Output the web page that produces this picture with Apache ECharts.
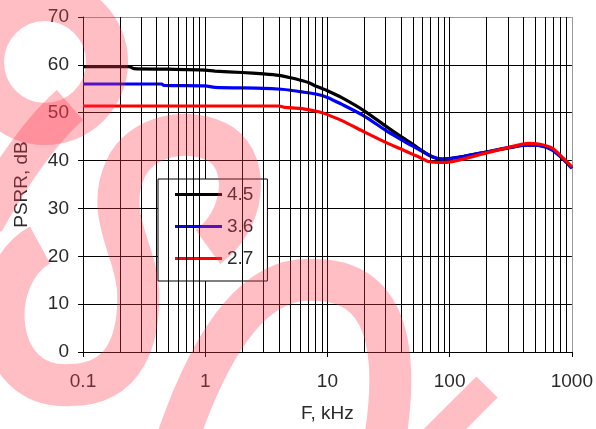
<!DOCTYPE html>
<html><head><meta charset="utf-8">
<script src="https://cdn.jsdelivr.net/npm/echarts@6/dist/echarts.min.js"></script>
<style>html,body{margin:0;padding:0;background:#fff}#c{width:596px;height:429px}</style>
</head><body><div id="c"></div>
<script>
const xTicks = [0.1, 1, 10, 100, 1000];
const yTicks = [0, 10, 20, 30, 40, 50, 60, 70];
const seriesNames = ['4.5', '3.6', '2.7'];
const seriesColors = ['#000000', '#0000ff', '#ff0000'];
const freq45 = [0.1,0.24,0.26,0.5,1.0,1.2,2.0,3.0,4.0,5.0,6.0,7.0,8.0,10,13,20,30,40,50,60,72,85,100,130,200,300,400,500,600,700,850,1000];
const psrr45 = [59.6,59.6,59.2,59.1,58.9,58.7,58.4,58.1,57.8,57.3,56.8,56.3,55.6,54.6,53.2,50.4,47.2,45.0,43.4,42.0,40.8,40.3,40.4,40.9,41.8,42.6,43.2,43.3,42.9,42.3,40.3,38.4];
const freq36 = [0.1,0.44,0.46,1.0,1.2,3.0,4.2,5.0,6.0,8.0,10,13,20,30,40,50,60,72,88,100,128,200,300,440,550,690,850,1000];
const psrr36 = [56.0,56.0,55.7,55.6,55.3,55.1,54.9,54.7,54.4,53.9,53.2,51.8,49.3,46.3,44.4,43.0,41.9,40.8,40.3,40.4,40.8,41.8,42.7,43.2,43.1,42.2,40.3,38.4];
const freq27 = [0.1,4.0,4.5,6.0,8.5,10,13,20,30,40,50,60,67,88,100,128,200,300,440,550,690,850,1000];
const psrr27 = [51.4,51.4,51.1,50.9,50.2,49.6,48.4,46.0,43.8,42.4,41.3,40.4,39.8,39.6,39.7,40.3,41.6,42.7,43.6,43.4,42.6,40.5,38.7];
const minorMult = [2,3,4,5,6,7,8,9];

const pairs = (xs, ys) => xs.map((x, i) => [x, ys[i]]);
const minorLines = [];
xTicks.slice(0, -1).forEach(d => minorMult.forEach(m => minorLines.push({ xAxis: +(d * m).toPrecision(3) })));

const font = 'Liberation Sans, Arial, sans-serif';
const txt = '#2a2a2a';
const wm = 'rgba(255,55,75,0.33)';
const wmPaths = [
  ['M -17 62 a 62 62 0 1 0 124 0 a 62 62 0 1 0 -124 0', 42],
  ['M 70 105 Q 30 140 -16 222', 40],
  ['M 40 245 C -15 275 -10 390 70 385 C 125 385 140 340 138 290 C 136 250 105 215 125 170 C 140 135 190 125 222 145 C 250 165 245 220 208 247', 42],
  ['M 177 440 C 215 330 260 275 315 280 C 385 280 400 345 385 440', 42],
  ['M 487 387 L 420 454', 30]
];

const chart = echarts.init(document.getElementById('c'), null, { renderer: 'canvas' });
const dataSets = [pairs(freq45, psrr45), pairs(freq36, psrr36), pairs(freq27, psrr27)];
const lineSeries = seriesNames.map((n, i) => ({
  name: n, type: 'line', data: dataSets[i], showSymbol: false, symbol: 'none',
  smooth: 0.25,
  lineStyle: { color: seriesColors[i], width: 3.2 }, itemStyle: { color: seriesColors[i] },
  z: 3 + i,
  markLine: i === 0 ? {
    silent: true, symbol: 'none', label: { show: false },
    lineStyle: { color: '#000', width: 1, type: 'solid' },
    data: minorLines
  } : undefined
}));
lineSeries.push({
  type: 'custom', coordinateSystem: 'none', silent: true, z: 100, data: [0],
  renderItem: () => ({
    type: 'group',
    children: wmPaths.map(p => ({
      type: 'path', shape: { pathData: p[0] },
      style: { stroke: wm, lineWidth: p[1], fill: null, lineCap: 'butt' }
    }))
  })
});
chart.setOption({
  animation: false,
  backgroundColor: '#fff',
  grid: { left: 83, right: 23, top: 17, bottom: 77, containLabel: false },
  xAxis: {
    type: 'log', logBase: 10, min: xTicks[0], max: xTicks[xTicks.length - 1],
    name: 'F, kHz', nameLocation: 'middle', nameGap: 52,
    nameTextStyle: { fontFamily: font, fontSize: 19, color: txt },
    axisLine: { show: true, lineStyle: { color: '#000', width: 1 } },
    axisTick: { show: true, length: 5, lineStyle: { color: '#000' } },
    axisLabel: { fontFamily: font, fontSize: 19, color: txt, margin: 20, formatter: v => String(v) },
    splitLine: { show: true, lineStyle: { color: ['#000', '#000', '#000', '#000', '#999'], width: 1 } }
  },
  yAxis: {
    type: 'value', min: yTicks[0], max: yTicks[yTicks.length - 1], interval: 10,
    name: 'PSRR, dB', nameLocation: 'middle', nameGap: 52, nameRotate: 90,
    nameTextStyle: { fontFamily: font, fontSize: 19, color: txt },
    axisLine: { show: true, lineStyle: { color: '#000', width: 1 } },
    axisTick: { show: true, length: 5, lineStyle: { color: '#000' } },
    axisLabel: { fontFamily: font, fontSize: 19, color: txt, margin: 14 },
    splitLine: { show: true, lineStyle: { color: ['#000', '#000', '#000', '#000', '#000', '#000', '#000', '#999'], width: 1 } }
  },
  legend: {
    orient: 'vertical', left: 158, top: 179,
    data: seriesNames.map((n, i) => ({ name: n, icon: 'path://M0,0 L47,0 L47,3 L0,3 Z', itemStyle: { color: seriesColors[i] } })),
    itemWidth: 47, itemHeight: 3, itemGap: 13,
    padding: [6, 14, 13, 17],
    backgroundColor: '#fff', borderColor: '#000', borderWidth: 1,
    textStyle: { fontFamily: font, fontSize: 19, color: txt },
    selectedMode: false
  },
  series: lineSeries
});
</script></body></html>
